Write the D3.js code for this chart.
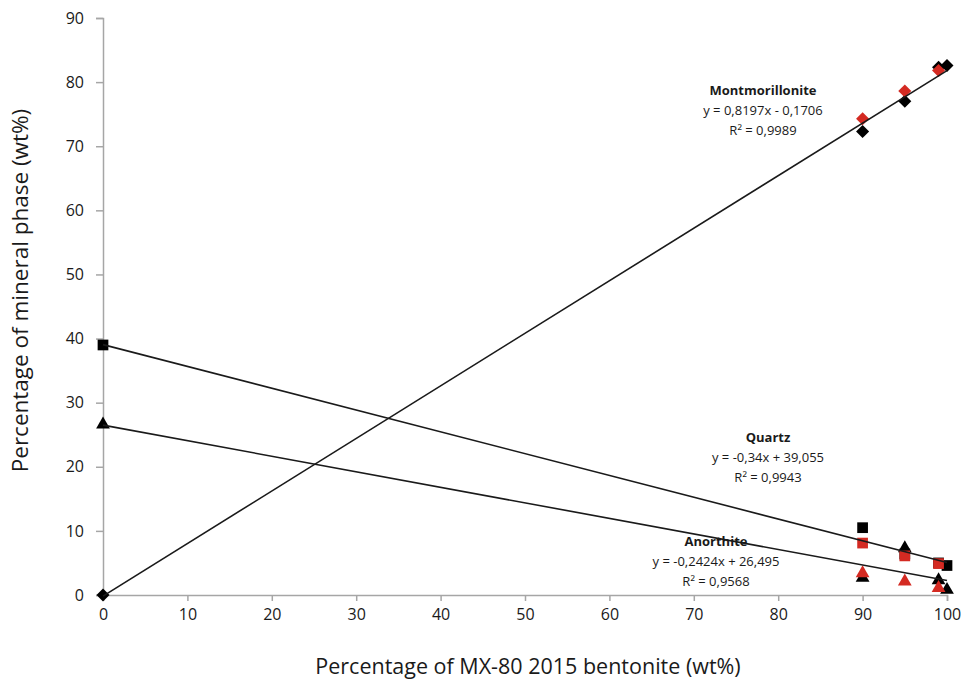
<!DOCTYPE html>
<html>
<head>
<meta charset="utf-8">
<script src="https://cdn.jsdelivr.net/npm/d3@7"></script>
<style>
  body { margin: 0; background: #fff; }
  text { font-family: "Open Sans", "Noto Sans", sans-serif; fill: #1a1a1a; }
</style>
</head>
<body>
<div id="chart"></div>
<script>
// percentage of bentonite (x values)
const xBlack = [0, 90, 95, 99, 100]
const xRed = [90, 95, 99]

// Montmorillonite (diamonds)
const montBlack = [0, 72.3, 77.0, 82.3, 82.6]
const montRed = [74.3, 78.6, 81.8]

// Quartz (squares)
const quartzBlack = [39.0, 10.5, 6.4, 5.0, 4.6]
const quartzRed = [8.1, 6.1, 4.9]

// Anorthite (triangles)
const anorBlack = [26.6, 2.7, 7.3, 2.3, 0.8]
const anorRed = [3.4, 2.1, 1.1]

// linear trendlines [slope, intercept]
const trendMont = [0.8197, -0.1706]
const trendQuartz = [-0.34, 39.055]
const trendAnor = [-0.2424, 26.495]

const xTicks = [0, 10, 20, 30, 40, 50, 60, 70, 80, 90, 100]
const yTicks = [0, 10, 20, 30, 40, 50, 60, 70, 80, 90]

const labels = [
    {lines: ["Montmorillonite", "y = 0,8197x - 0,1706", "R² = 0,9989"], cx: 763, cy: 95},
    {lines: ["Quartz", "y = -0,34x + 39,055", "R² = 0,9943"], cx: 768, cy: 442},
    {lines: ["Anorthite", "y = -0,2424x + 26,495", "R² = 0,9568"], cx: 716, cy: 546}
]

const width = 962, height = 684
const margin = {top: 18, right: 15, bottom: 89, left: 103}

const svg = d3.select("#chart").append("svg")
    .attr("width", width)
    .attr("height", height)

const x = d3.scaleLinear()
    .domain([0, 100])
    .range([margin.left, width - margin.right])

const y = d3.scaleLinear()
    .domain([0, 90])
    .range([height - margin.bottom, margin.top])

// axes
const xAxis = d3.axisBottom(x).tickValues(xTicks).tickSize(6).tickPadding(8)
const yAxis = d3.axisLeft(y).tickValues(yTicks).tickSize(7).tickPadding(12)

const gx = svg.append("g")
    .attr("transform", `translate(0, ${y(0)})`)
    .call(xAxis)
gx.selectAll("text").style("font-size", "16px")

const gy = svg.append("g")
    .attr("transform", `translate(${x(0)}, 0)`)
    .call(yAxis)
gy.selectAll("text").style("font-size", "16px")

svg.selectAll(".domain, .tick line")
    .attr("stroke", "#a6a6a6")
    .attr("stroke-width", 1.5)

// axis titles
svg.append("text")
    .attr("x", (x(0) + x(100)) / 2 + 3)
    .attr("y", 674)
    .attr("text-anchor", "middle")
    .style("font-size", "21.5px")
    .text("Percentage of MX-80 2015 bentonite (wt%)")

svg.append("text")
    .attr("transform", `translate(28, ${(y(0) + y(90)) / 2 - 16}) rotate(-90)`)
    .attr("text-anchor", "middle")
    .style("font-size", "22.5px")
    .text("Percentage of mineral phase (wt%)")

// markers
const red = "#d42a22"
const series = [
    {xs: xBlack, ys: montBlack, type: d3.symbolSquare, size: 85, rot: 45, color: "#000"},
    {xs: xBlack, ys: quartzBlack, type: d3.symbolSquare, size: 115, rot: 0, color: "#000"},
    {xs: xBlack, ys: anorBlack, type: d3.symbolTriangle, size: 82, rot: 0, color: "#000"},
    {xs: xRed, ys: montRed, type: d3.symbolSquare, size: 85, rot: 45, color: red},
    {xs: xRed, ys: quartzRed, type: d3.symbolSquare, size: 115, rot: 0, color: red},
    {xs: xRed, ys: anorRed, type: d3.symbolTriangle, size: 82, rot: 0, color: red}
]

series.forEach(s => {
    svg.append("g").selectAll("path")
        .data(s.xs.map((v, i) => [v, s.ys[i]]))
        .enter()
        .append("path")
        .attr("transform", d => `translate(${x(d[0])}, ${y(d[1])}) rotate(${s.rot})`)
        .attr("d", d3.symbol().type(s.type).size(s.size))
        .attr("fill", s.color)
})

// trendlines
const line = d3.line()
    .x(d => x(d[0]))
    .y(d => y(d[1]))

;[trendMont, trendQuartz, trendAnor].forEach(t => {
    svg.append("path")
        .datum([0, 100].map(v => [v, t[0] * v + t[1]]))
        .attr("fill", "none")
        .attr("stroke", "#1a1a1a")
        .attr("stroke-width", 1.6)
        .attr("d", line)
})

// equation labels
labels.forEach(l => {
    const t = svg.append("text")
        .attr("text-anchor", "middle")
        .style("font-size", "13px")
    l.lines.forEach((s, i) => {
        t.append("tspan")
            .attr("x", l.cx)
            .attr("y", l.cy + i * 20)
            .style("font-weight", i === 0 ? "bold" : "normal")
            .text(s)
    })
})
</script>
</body>
</html>
